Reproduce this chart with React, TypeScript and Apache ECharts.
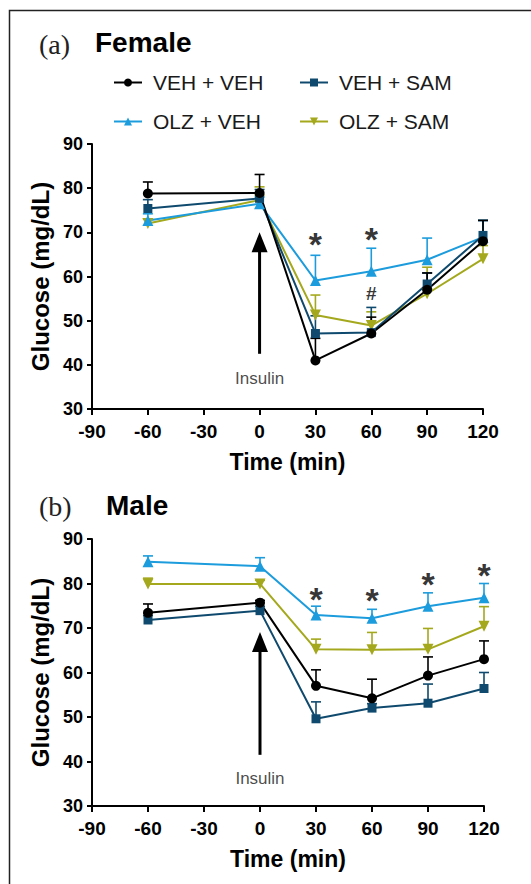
import React, { useEffect, useRef } from "react";
import * as echarts from "echarts";

// ---------- data ----------
const timePoints = [-60, 0, 30, 60, 90, 120];
const groupNames = ["VEH + VEH", "VEH + SAM", "OLZ + VEH", "OLZ + SAM"];
const groupColors = ["#000000", "#0f4a6e", "#1c9cdc", "#a4a81c"];
const downTriangle = "path://M0,0L12,0L6,10.4Z";
const groupSymbols = ["circle", "rect", "triangle", downTriangle];
const groupSymbolSizes = [10, 9, 11, 11];

// Female (a)
const femaleVehVeh = [78.8, 78.9, 41.0, 47.1, 57.0, 68.0];
const femaleVehVehErr = [2.6, 4.2, 5.0, 3.7, 3.8, 4.7];
const femaleVehSam = [75.4, 77.7, 47.1, 47.3, 58.3, 69.3];
const femaleVehSamErr = [2.0, 2.0, 4.0, 5.7, 2.5, 3.4];
const femaleOlzVeh = [72.7, 76.5, 59.1, 61.2, 63.8, 68.9];
const femaleOlzVehErr = [1.5, 1.5, 5.7, 5.2, 4.9, 3.8];
const femaleOlzSam = [72.0, 77.3, 51.3, 48.9, 56.1, 64.0];
const femaleOlzSamErr = [1.0, 3.0, 4.5, 3.1, 6.0, 3.0];

// Male (b)
const maleVehVeh = [73.4, 75.7, 57.0, 54.2, 59.3, 63.0];
const maleVehVehErr = [2.0, 0.5, 3.6, 4.3, 4.2, 4.1];
const maleVehSam = [71.8, 73.9, 49.6, 52.0, 53.1, 56.4];
const maleVehSamErr = [1.0, 1.0, 3.8, 1.0, 4.3, 3.6];
const maleOlzVeh = [84.9, 83.9, 72.9, 72.2, 74.9, 76.8];
const maleOlzVehErr = [1.3, 1.9, 2.0, 2.0, 3.0, 3.2];
const maleOlzSam = [79.9, 79.9, 65.2, 65.1, 65.2, 70.4];
const maleOlzSamErr = [1.3, 0.8, 2.3, 3.9, 4.7, 4.4];

// annotations: [time, glucose position, text]
const femaleMarks: [number, number, string][] = [
  [30, 67.4, "*"],
  [60, 68.5, "*"],
];
const femaleHash: [number, number, string][] = [[60, 56.1, "#"]];
const maleMarks: [number, number, string][] = [
  [30, 76.6, "*"],
  [60, 76.2, "*"],
  [90, 80.0, "*"],
  [120, 82.0, "*"],
];
// insulin arrow: [time, from glucose, to glucose], label position
const femaleArrow = [0, 42.5, 70.0];
const femaleInsulinLabel = [0, 36.8];
const maleArrow = [0, 41.5, 69.1];
const maleInsulinLabel = [0, 36.1];

const xMin = -90, xMax = 120, xStep = 30;
const yMin = 30, yMax = 90, yStep = 10;

const SANS = "'Liberation Sans', Arial, Helvetica, sans-serif";
const SERIF = "'Liberation Serif', 'Times New Roman', serif";

function errSeries(name: string, color: string, means: number[], errs: number[], idx: number) {
  return {
    type: "custom",
    name: "err " + name,
    xAxisIndex: idx,
    yAxisIndex: idx,
    silent: true,
    data: timePoints.map((t, i) => [t, means[i], means[i] + errs[i]]),
    encode: { x: 0, y: [1, 2] },
    renderItem: (_p: any, api: any) => {
      const b = api.coord([api.value(0), api.value(1)]);
      const t = api.coord([api.value(0), api.value(2)]);
      const hw = 5;
      return {
        type: "group",
        children: [
          { type: "line", shape: { x1: b[0], y1: b[1], x2: t[0], y2: t[1] }, style: { stroke: color, lineWidth: 1.6 } },
          { type: "line", shape: { x1: t[0] - hw, y1: t[1], x2: t[0] + hw, y2: t[1] }, style: { stroke: color, lineWidth: 1.6 } },
        ],
      };
    },
  };
}

function lineSeries(gi: number, means: number[], idx: number) {
  return {
    type: "line",
    name: groupNames[gi],
    xAxisIndex: idx,
    yAxisIndex: idx,
    data: timePoints.map((t, i) => [t, means[i]]),
    symbol: groupSymbols[gi],
    symbolSize: groupSymbolSizes[gi],
    showSymbol: true,
    color: groupColors[gi],
    itemStyle: { color: groupColors[gi] },
    lineStyle: { color: groupColors[gi], width: 2 },
    silent: true,
  };
}

function arrowSeries(arrow: number[], idx: number) {
  return {
    type: "custom",
    name: "arrow",
    xAxisIndex: idx,
    yAxisIndex: idx,
    silent: true,
    data: [arrow],
    encode: { x: 0, y: [1, 2] },
    renderItem: (_p: any, api: any) => {
      const b = api.coord([api.value(0), api.value(1)]);
      const t = api.coord([api.value(0), api.value(2)]);
      const hh = 20, hw = 16;
      return {
        type: "group",
        children: [
          { type: "line", shape: { x1: b[0], y1: b[1], x2: t[0], y2: t[1] + hh - 2 }, style: { stroke: "#000", lineWidth: 3 } },
          { type: "polygon", shape: { points: [[t[0], t[1]], [t[0] - hw / 2, t[1] + hh], [t[0] + hw / 2, t[1] + hh]] }, style: { fill: "#000" } },
        ],
      };
    },
  };
}

function textSeries(items: [number, number, string][], idx: number, size: number) {
  return {
    type: "scatter",
    name: "text",
    xAxisIndex: idx,
    yAxisIndex: idx,
    silent: true,
    symbolSize: 0,
    data: items.map((m) => ({ value: [m[0], m[1]], name: m[2] })),
    label: { show: true, position: "inside", formatter: "{b}", fontSize: size, fontWeight: "bold", color: "#000", fontFamily: SANS },
    z: 5,
  };
}

function panelSeries(
  idx: number,
  vv: number[], vvE: number[], vs: number[], vsE: number[],
  ov: number[], ovE: number[], os: number[], osE: number[],
  arrow: number[], label: number[], marks: [number, number, string][], hashes: [number, number, string][]
) {
  const means = [vv, vs, ov, os];
  const errs = [vvE, vsE, ovE, osE];
  const order = [3, 2, 1, 0];
  const out: any[] = [];
  out.push(arrowSeries(arrow, idx));
  order.forEach((g) => out.push(errSeries(groupNames[g], groupColors[g], means[g], errs[g], idx)));
  order.forEach((g) => out.push(lineSeries(g, means[g], idx)));
  out.push(textSeries(marks, idx, 34));
  if (hashes.length) out.push(textSeries(hashes, idx, 19));
  out.push({
    type: "scatter",
    name: "insulin",
    xAxisIndex: idx,
    yAxisIndex: idx,
    silent: true,
    symbolSize: 0,
    data: [{ value: label, name: "Insulin" }],
    label: { show: true, position: "inside", formatter: "{b}", fontSize: 17, color: "#1a1a1a", fontFamily: SANS },
  });
  return out;
}

function xAxisCfg(idx: number) {
  return {
    type: "value",
    gridIndex: idx,
    min: xMin,
    max: xMax,
    interval: xStep,
    name: "Time (min)",
    nameLocation: "middle",
    nameGap: 41,
    nameTextStyle: { fontSize: 23, fontWeight: "bold", color: "#000", fontFamily: SANS },
    axisLine: { show: true, onZero: false, lineStyle: { color: "#000", width: 2 } },
    axisTick: { show: true, length: 6, lineStyle: { color: "#000", width: 2 } },
    axisLabel: { fontSize: 19, fontWeight: "bold", color: "#000", fontFamily: SANS, margin: 13 },
    splitLine: { show: false },
  };
}

function yAxisCfg(idx: number) {
  return {
    type: "value",
    gridIndex: idx,
    min: yMin,
    max: yMax,
    interval: yStep,
    name: "Glucose (mg/dL)",
    nameLocation: "middle",
    nameRotate: 90,
    nameGap: 35,
    nameTextStyle: { fontSize: 24, fontWeight: "bold", color: "#000", fontFamily: SANS },
    axisLine: { show: true, onZero: false, lineStyle: { color: "#000", width: 2 } },
    axisTick: { show: true, length: 5, lineStyle: { color: "#000", width: 2 } },
    axisLabel: { fontSize: 18, fontWeight: "bold", color: "#000", fontFamily: SANS, margin: 9 },
    splitLine: { show: false },
  };
}

export default function App() {
  const ref = useRef<HTMLDivElement>(null);
  useEffect(() => {
    if (!ref.current) return;
    const chart = echarts.init(ref.current, undefined, { renderer: "svg" });
    const legendText = { fontSize: 21, color: "#1a1a1a", fontFamily: SANS, padding: [0, 0, 0, 6] };
    chart.setOption({
      animation: false,
      backgroundColor: "#ffffff",
      grid: [
        { left: 92, top: 144, width: 391, height: 265 },
        { left: 92, top: 539, width: 392, height: 267 },
      ],
      xAxis: [xAxisCfg(0), xAxisCfg(1)],
      yAxis: [yAxisCfg(0), yAxisCfg(1)],
      legend: [
        {
          data: [groupNames[0], groupNames[2]],
          orient: "vertical",
          left: 108,
          top: 67,
          itemWidth: 28,
          itemHeight: 10,
          itemGap: 18,
          selectedMode: false,
          textStyle: legendText,
        },
        {
          data: [groupNames[1], groupNames[3]],
          orient: "vertical",
          left: 294,
          top: 67,
          itemWidth: 28,
          itemHeight: 10,
          itemGap: 18,
          selectedMode: false,
          textStyle: legendText,
        },
      ],
      graphic: [
        { type: "rect", shape: { x: 9.5, y: 10.5, width: 800, height: 1000 }, style: { fill: "none", stroke: "#222", lineWidth: 1.5 }, silent: true },
        { type: "text", x: 39, y: 44, style: { text: "(a)", font: `28px ${SERIF}`, fill: "#222", verticalAlign: "middle" } },
        { type: "text", x: 95, y: 42, style: { text: "Female", font: `bold 28px ${SANS}`, fill: "#000", verticalAlign: "middle" } },
        { type: "text", x: 39, y: 506, style: { text: "(b)", font: `28px ${SERIF}`, fill: "#222", verticalAlign: "middle" } },
        { type: "text", x: 106, y: 505, style: { text: "Male", font: `bold 28px ${SANS}`, fill: "#000", verticalAlign: "middle" } },
      ],
      series: [
        ...panelSeries(0, femaleVehVeh, femaleVehVehErr, femaleVehSam, femaleVehSamErr, femaleOlzVeh, femaleOlzVehErr, femaleOlzSam, femaleOlzSamErr, femaleArrow, femaleInsulinLabel, femaleMarks, femaleHash),
        ...panelSeries(1, maleVehVeh, maleVehVehErr, maleVehSam, maleVehSamErr, maleOlzVeh, maleOlzVehErr, maleOlzSam, maleOlzSamErr, maleArrow, maleInsulinLabel, maleMarks, []),
      ],
    });
    return () => chart.dispose();
  }, []);
  return <div ref={ref} style={{ position: "absolute", left: 0, top: 0, width: 531, height: 884 }} />;
}
